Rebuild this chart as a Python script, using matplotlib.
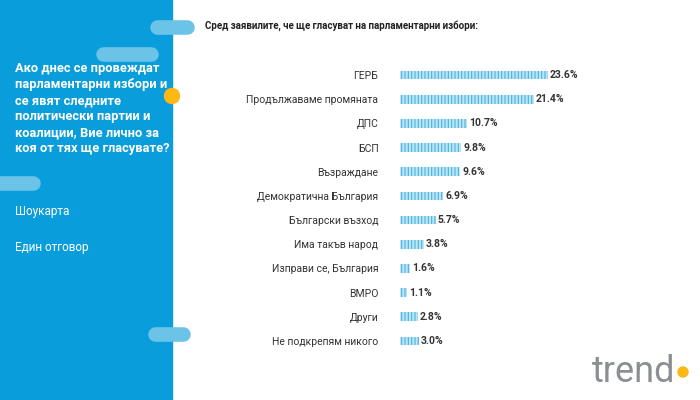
import matplotlib
matplotlib.use("Agg")
import matplotlib.pyplot as plt
from matplotlib.patches import Rectangle, Circle

categories = ["ГЕРБ", "Продължаваме промяната", "ДПС", "БСП", "Възраждане",
              "Демократична България", "Български възход", "Има такъв народ",
              "Изправи се, България", "ВМРО", "Други", "Не подкрепям никого"]
values = [23.6, 21.4, 10.7, 9.8, 9.6, 6.9, 5.7, 3.8, 1.6, 1.1, 2.8, 3.0]

plt.rcParams['font.family'] = ['Roboto', 'DejaVu Sans']
W, H = 700, 400
fig = plt.figure(figsize=(7, 4), dpi=100)
bg = fig.add_axes([0, 0, 1, 1])
bg.set_xlim(0, W); bg.set_ylim(H, 0); bg.axis('off')
blue = '#0a9ddb'
light = '#6cc3e8'
bg.add_patch(Rectangle((0, 0), 172, 400, color=blue))
for (x0, x1, yc) in [(157, 187, 27), (103, 151, 54), (-10, 33, 183), (155, 183, 334)]:
    bg.plot([x0, x1], [yc, yc], color=light, lw=10.5, solid_capstyle='round', zorder=2)
bg.add_patch(Circle((172, 96), 7.5, color='#fdb813', zorder=3))
bg.text(15, 62, "Ако днес се провеждат\nпарламентарни избори и\nсе явят следните\nполитически партии и\nкоалиции, Вие лично за\nкоя от тях ще гласувате?",
        color='white', fontsize=9.3, fontweight='bold', va='top', ha='left', linespacing=1.3)
bg.text(15, 211, "Шоукарта", color='white', fontsize=8.5, va='center')
bg.text(15, 247, "Един отговор", color='white', fontsize=8.5, va='center')
bg.text(205, 26, "Сред заявилите, че ще гласуват на парламентарни избори:", fontsize=7,
        fontweight='bold', color='#222222', va='center')
bg.text(592, 372, "trend", fontsize=26, color='#8a8f93', va='center', ha='left')
bg.add_patch(Circle((683, 372), 5, color='#fdb813', zorder=3))

ax = fig.add_axes([400 / W, 1 - 353 / H, 188 / W, (353 - 63) / H])
ax.set_facecolor('none')
y = list(range(len(categories)))
plt.rcParams['hatch.color'] = '#45b4e2'
plt.rcParams['hatch.linewidth'] = 0.8
ax.barh(y, values, height=0.36, color='#bfe4f5', hatch='|||||', edgecolor='#45b4e2', lw=0)
for yi, v in zip(y, values):
    ax.text(v + 0.3, yi, f"{v:.1f}%", va='center', ha='left', fontsize=7.5, fontweight='bold', color='#333333')
ax.set_xlim(0, 30)
ax.set_ylim(len(categories) - 0.5, -0.5)
ax.set_yticks(y)
ax.set_yticklabels(categories, fontsize=7.5, color='#333333')
ax.tick_params(left=False, bottom=False, labelbottom=False, pad=12)
for s in ax.spines.values():
    s.set_visible(False)
fig.savefig("out.png", dpi=100)
